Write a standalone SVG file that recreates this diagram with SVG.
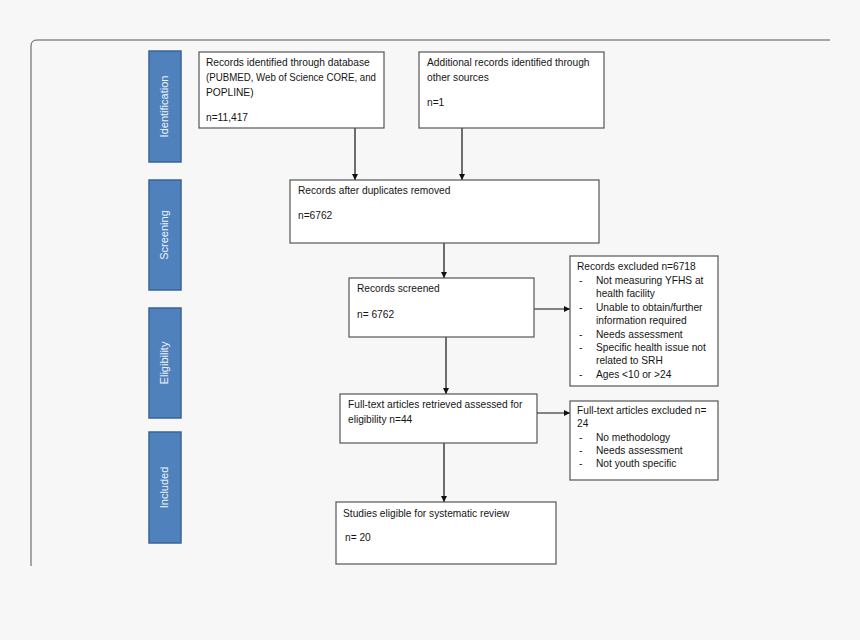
<svg xmlns="http://www.w3.org/2000/svg" width="860" height="640" viewBox="0 0 860 640">
<style>
.bg{fill:#f7f7f7}
.frame{fill:none;stroke:#555;stroke-width:1}
.bar rect{fill:#4f81bd;stroke:#3a6596;stroke-width:1.5}
.bar text{fill:#eef3fa;font-family:"Liberation Sans",Arial,sans-serif;font-size:11px;text-anchor:middle}
.node rect{fill:#fff;stroke:#555;stroke-width:1.2}
.node text{fill:#151515;font-family:"Liberation Sans",Arial,sans-serif;font-size:10.2px}
.conn line{stroke:#111;stroke-width:1.2;fill:none}
</style>
<defs>
<marker id="ah" viewBox="0 0 10 10" refX="10" refY="5" markerWidth="6" markerHeight="6" orient="auto" markerUnits="userSpaceOnUse">
<path d="M0,0 L10,5 L0,10 z" fill="#111"/>
</marker>
</defs>
<rect class="bg" x="0" y="0" width="860" height="640"/>
<path class="frame" d="M31,566 L31,46 Q31,40 37,40 L830,40"/>

<g id="bar-identification" class="bar"><rect x="149" y="51" width="32" height="111"/><text transform="translate(168,106.5) rotate(-90)">Identification</text></g>
<g id="bar-screening" class="bar"><rect x="149" y="180" width="32" height="110"/><text transform="translate(168,235) rotate(-90)">Screening</text></g>
<g id="bar-eligibility" class="bar"><rect x="149" y="308" width="32" height="110"/><text transform="translate(168,363) rotate(-90)">Eligibility</text></g>
<g id="bar-included" class="bar"><rect x="149" y="432" width="32" height="111"/><text transform="translate(168,487.5) rotate(-90)">Included</text></g>

<g id="conn" class="conn">
<line x1="355" y1="128" x2="355" y2="180" marker-end="url(#ah)"/>
<line x1="462" y1="128" x2="462" y2="180" marker-end="url(#ah)"/>
<line x1="444" y1="243" x2="444" y2="278" marker-end="url(#ah)"/>
<line x1="534" y1="309" x2="570" y2="309" marker-end="url(#ah)"/>
<line x1="446" y1="337" x2="446" y2="394" marker-end="url(#ah)"/>
<line x1="537" y1="413" x2="570" y2="413" marker-end="url(#ah)"/>
<line x1="444" y1="443" x2="444" y2="502" marker-end="url(#ah)"/>
</g>

<g id="n1" class="node"><rect x="199" y="52" width="185" height="76"/>
<text x="206" y="66">Records identified through database</text>
<text x="206" y="81" textLength="170" lengthAdjust="spacingAndGlyphs">(PUBMED, Web of Science CORE, and</text>
<text x="206" y="96">POPLINE)</text>
<text x="206" y="121">n=11,417</text></g>

<g id="n2" class="node"><rect x="419" y="52" width="185" height="76"/>
<text x="427" y="66">Additional records identified through</text>
<text x="427" y="81">other sources</text>
<text x="427" y="106">n=1</text></g>

<g id="n3" class="node"><rect x="290" y="180" width="309" height="63"/>
<text x="298" y="194">Records after duplicates removed</text>
<text x="298" y="219">n=6762</text></g>

<g id="n4" class="node"><rect x="349" y="278" width="185" height="59"/>
<text x="357" y="292">Records screened</text>
<text x="357" y="318">n= 6762</text></g>

<g id="n5" class="node"><rect x="570" y="256" width="148" height="130"/>
<text x="577" y="270">Records excluded n=6718</text>
<text x="579" y="284">-</text><text x="596" y="284">Not measuring YFHS at</text>
<text x="596" y="297">health facility</text>
<text x="579" y="311">-</text><text x="596" y="311">Unable to obtain/further</text>
<text x="596" y="324">information required</text>
<text x="579" y="338">-</text><text x="596" y="338">Needs assessment</text>
<text x="579" y="351">-</text><text x="596" y="351">Specific health issue not</text>
<text x="596" y="364">related to SRH</text>
<text x="579" y="378">-</text><text x="596" y="378">Ages &lt;10 or &gt;24</text></g>

<g id="n6" class="node"><rect x="340" y="394" width="197" height="49"/>
<text x="348" y="408">Full-text articles retrieved assessed for</text>
<text x="348" y="423">eligibility n=44</text></g>

<g id="n7" class="node"><rect x="570" y="401" width="148" height="79"/>
<text x="577" y="414">Full-text articles excluded n=</text>
<text x="577" y="427">24</text>
<text x="579" y="441">-</text><text x="596" y="441">No methodology</text>
<text x="579" y="454">-</text><text x="596" y="454">Needs assessment</text>
<text x="579" y="467">-</text><text x="596" y="467">Not youth specific</text></g>

<g id="n8" class="node"><rect x="336" y="502" width="220" height="62"/>
<text x="343" y="517">Studies eligible for systematic review</text>
<text x="345" y="541">n= 20</text></g>
</svg>
